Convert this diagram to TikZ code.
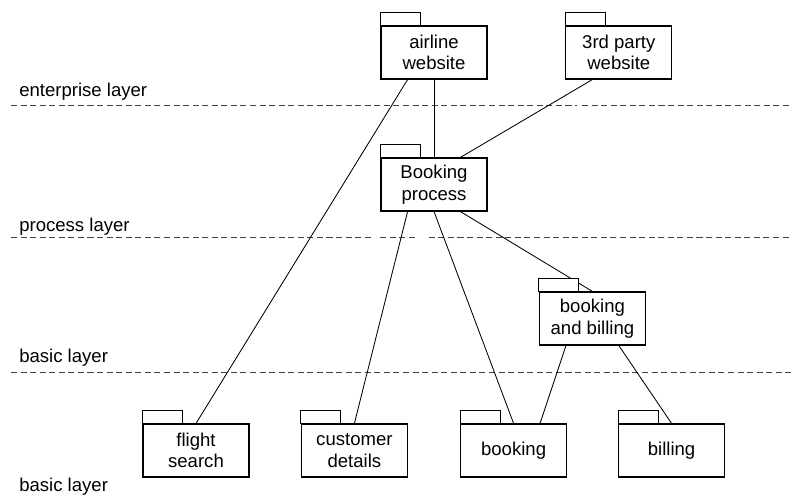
\documentclass[tikz,border=0pt]{standalone}
\usepackage{fontspec}
\setmainfont{Liberation Sans}
\tikzset{
    pkg/.style={draw, fill=white, line width=0.8pt, minimum width=2.65cm, minimum height=1.325cm,
        inner sep=0pt, align=center, font=\fontsize{13.2}{15.4}\selectfont},
    layerline/.style={draw=black!75, line width=0.7pt, dash pattern=on 4.3pt off 2.5pt},
    layertext/.style={anchor=base west, inner sep=0pt, font=\fontsize{13.2}{15.4}\selectfont},
    link/.style={line width=0.6pt}
}
\begin{document}
\begin{tikzpicture}
    \useasboundingbox (0,0) rectangle (19.8,12.45);
    % layers
    \node[layertext] (enterprise) at (0.475,10.025) {enterprise layer};
    \node[layertext] (process) at (0.475,6.65) {process layer};
    \node[layertext] (basic) at (0.475,3.375) {basic layer};
    \node[layertext] (basicbottom) at (0.475,0.15) {basic layer};
    \foreach \a/\b/\y in {0.275/14.42/9.8, 14.55/19.8/9.8,
                          0.275/9.35/6.5, 9.5/10.45/6.5, 10.72/19.8/6.5,
                          0.275/19.8/3.15} {
        \draw[layerline] (\a,\y) -- (\b,\y);
    }
    % packages
    \node[pkg] (airline) at (10.85,11.1375) {airline\\website};
    \node[pkg] (thirdparty) at (15.47,11.1375) {3rd party\\website};
    \node[pkg] (bookingprocess) at (10.85,7.8375) {Booking\\process};
    \node[pkg] (bookingbilling) at (14.81,4.4875) {booking\\and billing};
    \node[pkg] (flight) at (4.9,1.1875) {flight\\search};
    \node[pkg] (customer) at (8.86,1.1875) {customer\\details};
    \node[pkg] (booking) at (12.84,1.1875) {booking};
    \node[pkg] (billing) at (16.79,1.1875) {billing};
    % links
    \draw[link] ([xshift=-0.66cm]airline.south) -- (flight.north);
    \draw[link] (airline.south) -- (bookingprocess.north);
    \draw[link] ([xshift=-0.66cm]thirdparty.south) -- ([xshift=0.66cm]bookingprocess.north);
    \draw[link] ([xshift=-0.66cm]bookingprocess.south) -- (customer.north);
    \draw[link] (bookingprocess.south) -- (booking.north);
    \draw[link] ([xshift=0.66cm]bookingprocess.south) -- (bookingbilling.north);
    \draw[link] ([xshift=-0.66cm]bookingbilling.south) -- ([xshift=0.66cm]booking.north);
    \draw[link] ([xshift=0.66cm]bookingbilling.south) -- (billing.north);
    % tabs
    \foreach \n in {airline,thirdparty,bookingprocess,bookingbilling,flight,customer,booking,billing} {
        \draw[fill=white, line width=0.7pt] (\n.north west) rectangle ++(1,0.325);
    }
\end{tikzpicture}
\end{document}
